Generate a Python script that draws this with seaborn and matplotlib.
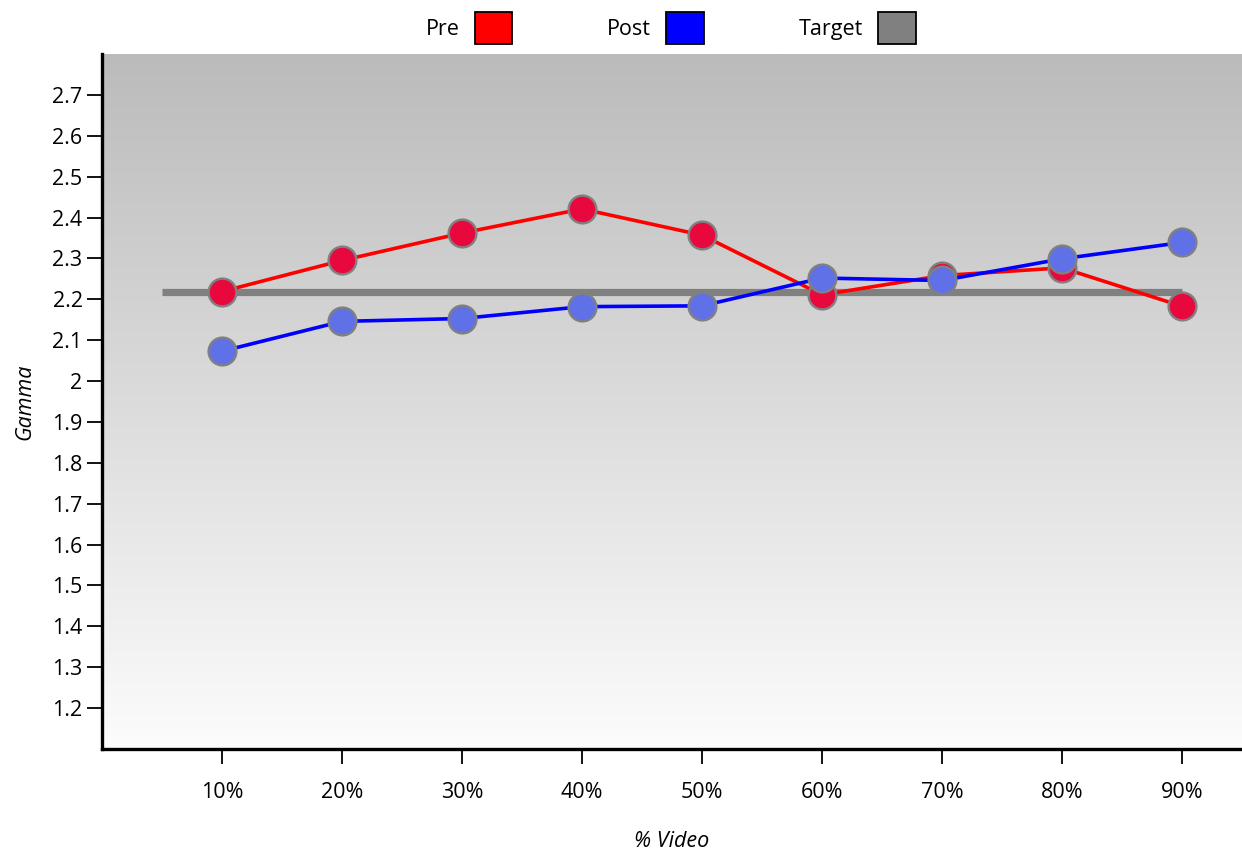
import numpy as np
import pandas as pd
import matplotlib
matplotlib.use("Agg")
import matplotlib.pyplot as plt
from matplotlib.patches import Patch
import seaborn as sns

# values
categories = ["10%", "20%", "30%", "40%", "50%", "60%", "70%", "80%", "90%"]
pre = [2.219, 2.295, 2.362, 2.421, 2.357, 2.211, 2.258, 2.277, 2.183]
post = [2.073, 2.146, 2.153, 2.182, 2.184, 2.252, 2.246, 2.299, 2.339]
target = 2.218
y_ticks = [1.2, 1.3, 1.4, 1.5, 1.6, 1.7, 1.8, 1.9, 2.0, 2.1, 2.2, 2.3, 2.4, 2.5, 2.6, 2.7]

sns.set_style("white")
plt.rcParams['font.family'] = ['Open Sans', 'DejaVu Sans']
plt.rcParams['text.color'] = 'black'
plt.rcParams['axes.labelcolor'] = 'black'
plt.rcParams['xtick.color'] = 'black'
plt.rcParams['ytick.color'] = 'black'

pos = np.arange(1, len(categories) + 1)
df = pd.DataFrame({"pos": pos, "Pre": pre, "Post": post})

fig = plt.figure(figsize=(12.42, 8.52), dpi=100)
ax = fig.add_axes([0.0821, 0.1209, 0.9179, 0.8157])

# vertical grey-to-white gradient background
grad = np.linspace(0, 1, 256).reshape(-1, 1)
cmap = matplotlib.colors.LinearSegmentedColormap.from_list("bg", ["#bbbbbb", "#fcfcfc"])
ax.imshow(grad, aspect="auto", cmap=cmap, extent=[0, 1, 0, 1],
          transform=ax.transAxes, zorder=0)

ax.hlines(target, 0.5, pos[-1], color="#808080", linewidth=5.2, zorder=1)

sns.lineplot(data=df, x="pos", y="Pre", ax=ax, color="#ff0000", linewidth=2.6,
             marker="o", markersize=20, markerfacecolor="#e8083e",
             markeredgecolor="#808080", markeredgewidth=1.7, zorder=2)
sns.lineplot(data=df, x="pos", y="Post", ax=ax, color="#0000ff", linewidth=2.6,
             marker="o", markersize=20, markerfacecolor="#6070e6",
             markeredgecolor="#808080", markeredgewidth=1.7, zorder=3)

ax.set_xlim(0, 9.5)
ax.set_ylim(1.1, 2.8)
ax.set_xticks(pos)
ax.set_xticklabels(categories)
ax.set_yticks(y_ticks)
ax.set_yticklabels([f"{v:g}" for v in y_ticks])
ax.tick_params(axis="both", direction="out", length=11, width=1.3,
               color="black", labelcolor="black", labelsize=15.5, pad=3,
               left=True, bottom=True)
ax.tick_params(axis="x", pad=13)

for s in ["top", "right"]:
    ax.spines[s].set_visible(False)
for s in ["left", "bottom"]:
    ax.spines[s].set_color("black")
    ax.spines[s].set_linewidth(2.4)

ax.set_xlabel("% Video", fontsize=15.5, fontstyle="italic", labelpad=20)
ax.set_ylabel("Gamma", fontsize=15.5, fontstyle="italic", labelpad=12)

handles = [Patch(facecolor=c, edgecolor="black", linewidth=1.3)
           for c in ["#ff0000", "#0000ff", "#808080"]]
fig.legend(handles, ["Pre", "Post", "Target"], loc="center",
           bbox_to_anchor=(0.54, 0.967), ncol=3, frameon=False, fontsize=15.5,
           markerfirst=False, handlelength=1.75, handleheight=1.95,
           handletextpad=0.7, columnspacing=4.4)

fig.savefig("out.png", dpi=100)
